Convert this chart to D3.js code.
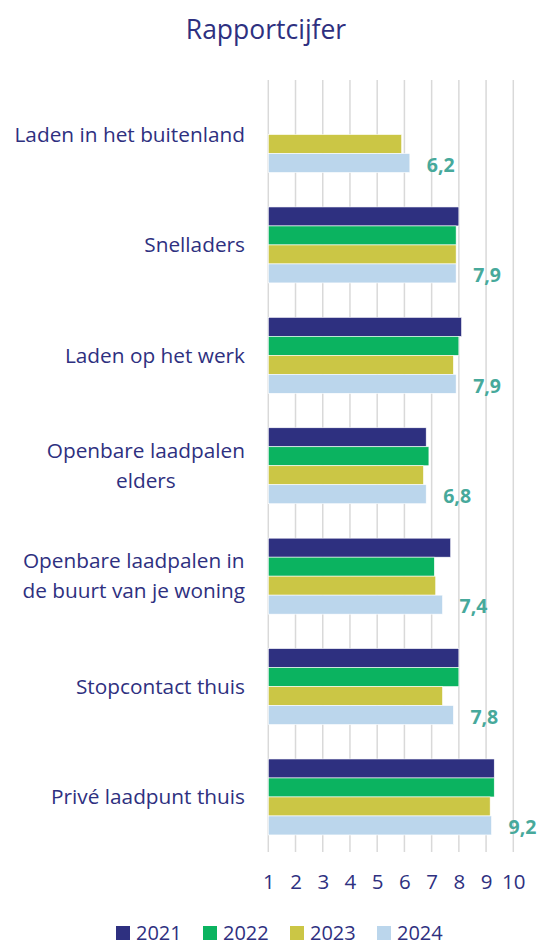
<!DOCTYPE html>
<html>
<head>
<meta charset="utf-8">
<script src="https://cdn.jsdelivr.net/npm/d3@7"></script>
<style>
  body { margin: 0; background: #fff; }
  svg { display: block; font-family: "Open Sans", sans-serif; }
</style>
</head>
<body>
<svg id="chart" width="544" height="945"></svg>
<script>
// data
const categories = [
    "Laden in het buitenland",
    "Snelladers",
    "Laden op het werk",
    "Openbare laadpalen|elders",
    "Openbare laadpalen in|de buurt van je woning",
    "Stopcontact thuis",
    "Privé laadpunt thuis"
];
const years = ["2021", "2022", "2023", "2024"];
const values_2021 = [null, 8.0, 8.1, 6.8, 7.7, 8.0, 9.3];
const values_2022 = [null, 7.9, 8.0, 6.9, 7.1, 8.0, 9.3];
const values_2023 = [5.9, 7.9, 7.8, 6.7, 7.15, 7.4, 9.15];
const values_2024 = [6.2, 7.9, 7.9, 6.8, 7.4, 7.8, 9.2];
const x_ticks = [1, 2, 3, 4, 5, 6, 7, 8, 9, 10];

const series = [values_2021, values_2022, values_2023, values_2024];
const colors = ["#2E3080", "#0BB360", "#CBC645", "#BBD6EC"];
const text_color = "#2E3080";
const label_color = "#47A99B";

const svg = d3.select("#chart");

// scales
const x_scale = d3.scaleLinear().domain([1, 10]).range([268.3, 513.3]);
const y_scale = d3.scaleBand()
    .domain(categories)
    .range([80, 851.5])
    .paddingInner(0.312)
    .paddingOuter(0.15);
const y_sub = d3.scaleBand().domain(years).range([0, y_scale.bandwidth()]);

// title
svg.append("text")
    .attr("x", 266)
    .attr("y", 39)
    .attr("text-anchor", "middle")
    .style("font-size", "26.5px")
    .style("fill", text_color)
    .text("Rapportcijfer");

// gridlines
svg.append("g")
    .selectAll("line")
    .data(x_ticks)
    .enter()
    .append("line")
    .attr("x1", (d) => x_scale(d))
    .attr("x2", (d) => x_scale(d))
    .attr("y1", 80)
    .attr("y2", 852)
    .attr("stroke", "#D9D9D9")
    .attr("stroke-width", 1.5);

// x axis
const x_axis = d3.axisBottom(x_scale).tickValues(x_ticks).tickSize(0).tickPadding(0);
const gx = svg.append("g")
    .attr("transform", "translate(0, 874)")
    .call(x_axis);
gx.select(".domain").remove();
gx.selectAll("text")
    .attr("dy", "0.71em")
    .style("font-size", "20.5px")
    .style("font-family", "Open Sans, sans-serif")
    .style("fill", text_color);

// bars
const groups = svg.append("g")
    .selectAll("g")
    .data(categories)
    .enter()
    .append("g")
    .attr("transform", (d) => `translate(0, ${y_scale(d)})`);

groups.selectAll("rect")
    .data((d, i) => years.map((y, j) => ({ year: y, value: series[j][i], color: colors[j] })))
    .enter()
    .filter((d) => d.value != null)
    .append("rect")
    .attr("x", x_scale(1))
    .attr("y", (d) => y_sub(d.year))
    .attr("width", (d) => x_scale(d.value) - x_scale(1))
    .attr("height", y_sub.bandwidth())
    .attr("fill", (d) => d.color)
    .attr("stroke", "#fff")
    .attr("stroke-width", 0.6);

// value labels for 2024
groups.append("text")
    .attr("x", (d, i) => x_scale(values_2024[i]) + 17)
    .attr("y", y_sub("2024") + y_sub.bandwidth() / 2 + 2)
    .attr("dy", "0.35em")
    .style("font-size", "19.5px")
    .style("font-weight", "bold")
    .style("fill", label_color)
    .text((d, i) => d3.format(".1f")(values_2024[i]).replace(".", ","));

// category labels, multi-line labels centred inside a right-aligned block
groups.each(function (d) {
    const lines = d.split("|");
    const g = d3.select(this);
    const cy = y_scale.bandwidth() / 2;
    const texts = lines.map((line, k) => g.append("text")
        .attr("y", cy + (k - (lines.length - 1) / 2) * 30)
        .attr("dy", "0.35em")
        .style("font-size", "20.8px")
        .style("fill", text_color)
        .text(line));
    const widths = texts.map((t) => t.node().getComputedTextLength());
    const max_w = d3.max(widths);
    texts.forEach((t) => t.attr("x", 245 - max_w / 2).attr("text-anchor", "middle"));
});

// legend
const legend = svg.append("g")
    .selectAll("g")
    .data(years)
    .enter()
    .append("g")
    .attr("transform", (d, i) => `translate(${116 + i * 87}, 926)`);

legend.append("rect")
    .attr("width", 14)
    .attr("height", 14)
    .attr("fill", (d, i) => colors[i]);

legend.append("text")
    .attr("x", 20)
    .attr("y", 14)
    .style("font-size", "20px")
    .style("fill", text_color)
    .text((d) => d);
</script>
</body>
</html>
